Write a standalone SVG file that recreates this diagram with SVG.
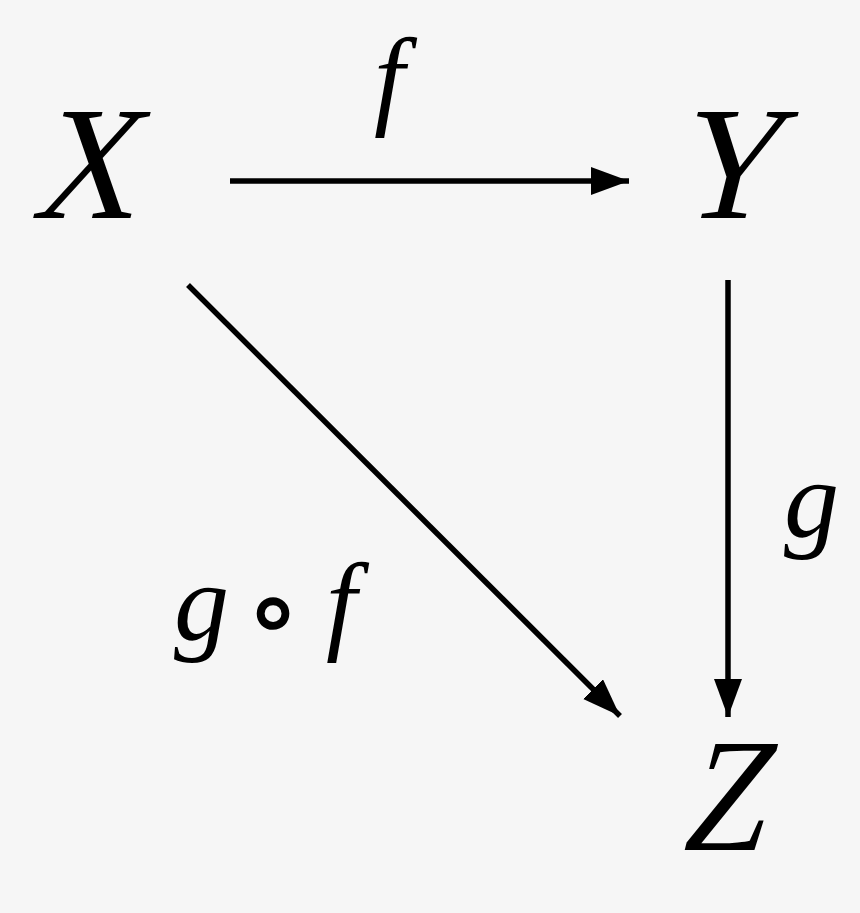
<svg xmlns="http://www.w3.org/2000/svg" width="860" height="913" viewBox="0 0 860 913">
<style>
.obj{font-family:"Liberation Serif",serif;font-size:162px;fill:#000}
.lbl{font-family:"Liberation Serif",serif;font-style:italic;font-size:110px;fill:#000}
.op{font-family:"DejaVu Sans","Liberation Sans",sans-serif;font-size:100px;font-weight:bold;fill:#000}
.edge{stroke:#000;stroke-width:5.5;fill:none}
</style>
<defs>
<marker id="ah" markerWidth="40" markerHeight="30" refX="38" refY="14" orient="auto" markerUnits="userSpaceOnUse">
<path d="M0,0 L38,14 L0,28 Z" fill="#000"/>
</marker>
</defs>
<rect width="860" height="913" fill="#f6f6f6"/>
<g id="connectors">
<line class="edge" x1="230" y1="181" x2="629" y2="181" marker-end="url(#ah)"/>
<line class="edge" x1="728" y1="280" x2="728" y2="717" marker-end="url(#ah)"/>
<line class="edge" x1="188" y1="285" x2="620" y2="716" marker-end="url(#ah)"/>
</g>
<g id="node-X"><text class="obj" transform="translate(30,218) skewX(-14)" x="0" y="0" textLength="103" lengthAdjust="spacingAndGlyphs">X</text></g>
<g id="node-Y"><text class="obj" transform="translate(670,218) skewX(-14)" x="0" y="0" textLength="106" lengthAdjust="spacingAndGlyphs">Y</text></g>
<g id="node-Z"><text class="obj" transform="translate(678,850) skewX(-14)" x="0" y="0" textLength="86" lengthAdjust="spacingAndGlyphs">Z</text></g>
<g id="label-f"><text class="lbl" x="374" y="115">f</text></g>
<g id="label-g"><text class="lbl" x="784" y="537">g</text></g>
<g id="label-gf"><text class="lbl" x="174" y="640">g</text><text class="op" x="273" y="645" text-anchor="middle">∘</text><text class="lbl" x="326" y="640">f</text></g>
</svg>
